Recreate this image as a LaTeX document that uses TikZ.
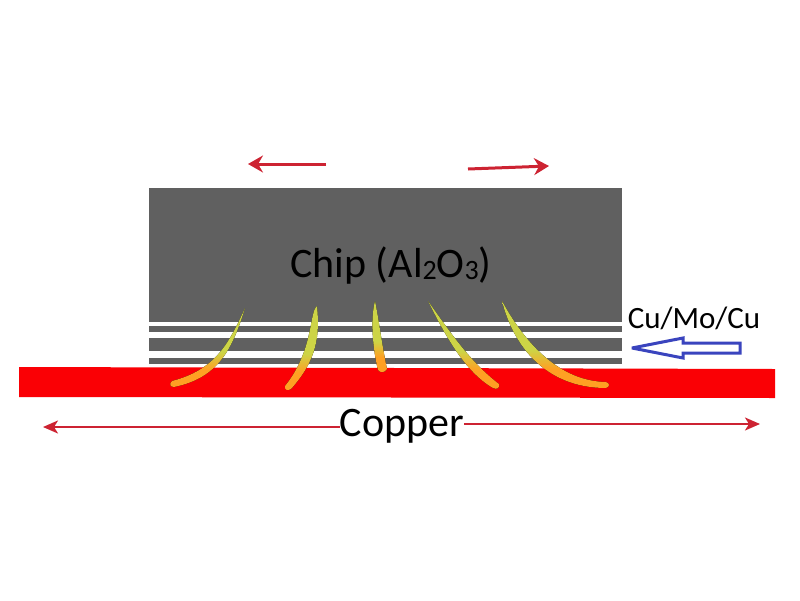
\documentclass[tikz,border=0pt]{standalone}
\usepackage{fontspec}
\setmainfont{Carlito}
\usepackage{tikz}
\usetikzlibrary{arrows.meta, positioning, calc}
\definecolor{chipgray}{RGB}{96, 96, 96}
\definecolor{copperred}{RGB}{250, 0, 5}
\definecolor{arrowred}{RGB}{205, 35, 50}
\definecolor{tapeblue}{RGB}{58, 68, 190}
\definecolor{heatyellow}{RGB}{205, 212, 70}
\definecolor{heatorange}{RGB}{255, 160, 35}
\pgfdeclareverticalshading{heatflow}{100bp}{color(0bp)=(heatorange); color(25bp)=(heatorange); color(36bp)=(heatorange); color(47bp)=(heatyellow); color(100bp)=(heatyellow)}
\newcommand{\subnum}[1]{\raisebox{-1.5pt}{\fontsize{28}{28}\selectfont #1}}

\begin{document}
\begin{tikzpicture}[
    x=1pt, y=-1pt,
    chiplayer/.style={fill=chipgray, inner sep=0pt, outer sep=0pt, minimum width=473pt},
    label/.style={inner sep=0pt, text=black},
    arrow/.style={-{Stealth[length=15pt, width=17pt, inset=5pt]}, line width=3pt, draw=arrowred},
    longarrow/.style={{Stealth[length=15pt, width=13pt, inset=4pt]}-, line width=2pt, draw=arrowred},
    heat/.style={shading=heatflow, draw=none}
]
\useasboundingbox (0,0) rectangle (800,600);
\fill[white] (0,0) rectangle (800,600);

% Chip and bonding layers
\node[chiplayer, minimum height=134pt, anchor=north west] (chip) at (149,188) {};
\node[chiplayer, minimum height=6pt, anchor=north west] (layera) at (149,326) {};
\node[chiplayer, minimum height=13pt, anchor=north west] (layerb) at (149,338) {};
\node[chiplayer, minimum height=6pt, anchor=north west] (layerc) at (149,358) {};

% Copper base
\fill[copperred] (19,367) -- (775,369) -- (775,398) -- (19,397) -- cycle;

% Heat flow
\fill[heat] (245,308) .. controls (228,346) and (214,370) .. (172,381)
    .. controls (169,384) and (170,387) .. (174,387) .. controls (218,378) and (232,350) .. cycle;
\fill[heat] (317,306) .. controls (309,312) and (314,350) .. (285,386)
    .. controls (284,390) and (288,391) .. (291,389) .. controls (317,360) and (320,335) .. cycle;
\fill[heat] (375,301) .. controls (370,320) and (373,350) .. (378,370)
    .. controls (380,373) and (385,373) .. (387,369) .. controls (381,340) and (379,320) .. cycle;
\fill[heat] (428,301) .. controls (445,335) and (465,372) .. (493,388)
    .. controls (497,390) and (500,388) .. (499,384) .. controls (470,362) and (450,332) .. cycle;
\fill[heat] (502,301) .. controls (513,345) and (545,388) .. (606,388)
    .. controls (610,387) and (610,383) .. (606,382) .. controls (560,381) and (526,345) .. cycle;

% Labels
\node[label, font=\fontsize{42}{44}\selectfont] (chiplabel) at (391,266) {Chip (Al\subnum{2}O\subnum{3})};
\node[label, font=\fontsize{31}{33}\selectfont] (layerlabel) at (694,318) {Cu/Mo/Cu};
\node[label, font=\fontsize{42}{44}\selectfont] (copperlabel) at (402,426) {Copper};

% Expansion arrows
\coordinate (leftstart) at (326,164);
\coordinate (leftend) at (248,164);
\coordinate (rightstart) at (468,169);
\coordinate (rightend) at (549,166);
\coordinate (copperleft) at (43,427);
\coordinate (copperright) at (760,424);
\draw[arrow] (leftstart) -- (leftend);
\draw[arrow] (rightstart) -- (rightend);
\draw[longarrow] (copperleft) -- (copperlabel.west |- copperleft);
\draw[longarrow] (copperright) -- (copperlabel.east |- copperright);

% Layer pointer
\draw[draw=tapeblue, fill=white, line width=3pt, miter limit=3] (632,348) -- (683,338) -- (683,343) -- (740,343)
    -- (740,353) -- (683,353) -- (683,358) -- cycle;
\end{tikzpicture}
\end{document}
